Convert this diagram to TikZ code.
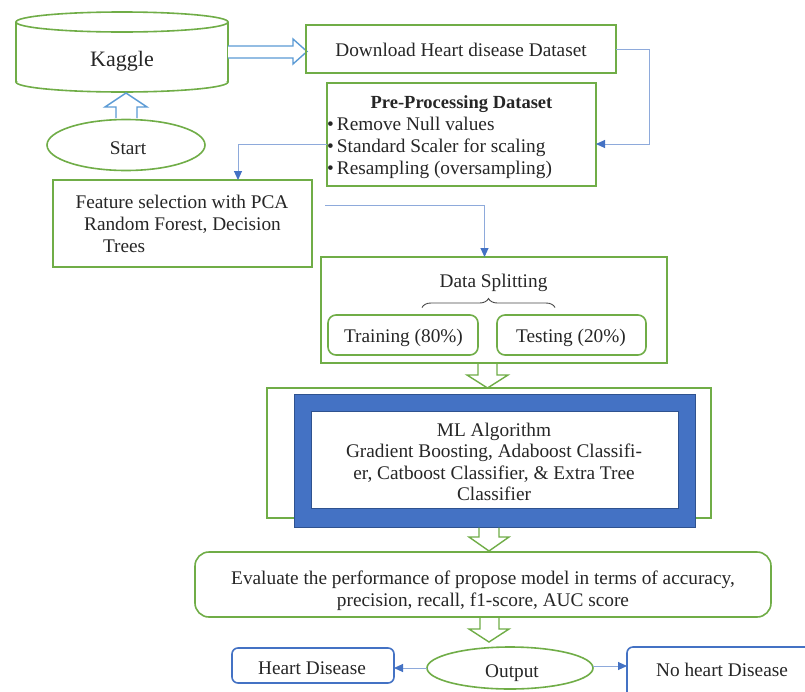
\documentclass[tikz,border=0pt]{standalone}
\usepackage{fontspec}
\setmainfont{Liberation Serif}
\usetikzlibrary{calc,arrows.meta,shapes.geometric,decorations.pathreplacing}
\definecolor{grn}{HTML}{70AD47}
\definecolor{lblue}{HTML}{8EAADB}
\definecolor{dblue}{HTML}{4472C4}
\definecolor{ablue}{HTML}{5B9BD5}
\definecolor{eblue}{HTML}{2F528F}
\definecolor{txt}{HTML}{262626}
\begin{document}
\begin{tikzpicture}[x=1pt,y=-1pt,
  every node/.style={text=txt,font=\fontsize{19.3}{22}\selectfont,inner sep=0pt,outer sep=0pt},
  gbox/.style={draw=grn,line width=1.6pt},
  rbox/.style={draw=grn,line width=1.6pt,rounded corners=8pt},
  bbox/.style={draw=dblue,line width=1.6pt,rounded corners=6pt},
  gline/.style={draw=grn,line width=1.6pt},
  conn/.style={draw=lblue,line width=1pt,-{Triangle[length=9pt,width=8pt,color=dblue]}},
  harrow/.style={draw=ablue,line width=1.4pt,fill=white,line join=miter},
  garrow/.style={draw=grn,line width=1.4pt,line join=miter},
  lbl/.style={anchor=base},
  lblw/.style={anchor=base west}]
\useasboundingbox (0,0) rectangle (805,691);
\fill[white] (0,0) rectangle (805,691);
\clip (0,0) rectangle (805,691);

% Kaggle cylinder
\draw[gline] (16,22) -- (16,82);
\draw[gline] (228,22) -- (228,82);
\draw[gline] (122,22) ellipse [x radius=106, y radius=10];
\begin{scope}
  \clip (0,81.5) rectangle (240,100);
  \draw[gline] (122,82) ellipse [x radius=106, y radius=10];
\end{scope}
\node[lbl,font=\fontsize{22}{26}\selectfont] (kaggle) at (122,66) {Kaggle};

% Start
\node[draw=grn,line width=1.6pt,ellipse,minimum width=158,minimum height=51] (start) at (126,145) {};
\node[lbl] (starttext) at (128,154) {Start};
% hollow up arrow
\draw[harrow] (116,118) -- (116,107) -- (105,107) -- (126,93) -- (147,107) -- (137,107) -- (137,118);

% hollow right arrow Kaggle -> Download
\draw[harrow] (228,46) -- (293,46) -- (293,39) -- (307,51.5) -- (293,64) -- (293,58) -- (228,58);

% Download
\node[gbox,minimum width=310,minimum height=48] (dl) at (461,49) {};
\node[lbl] (dltext) at (461,56) {Download Heart disease Dataset};

% Pre-processing
\node[gbox,minimum width=269,minimum height=103] (pre) at (461.5,134.5) {};
\node[lbl,font=\fontsize{18.5}{21}\selectfont\bfseries] (pretitle) at (461.5,108) {Pre-Processing Dataset};
\node[lblw] (pre1) at (327,130) {\textbullet\,Remove Null values};
\node[lblw] (pre2) at (327,152.5) {\textbullet\,Standard Scaler for scaling};
\node[lblw] (pre3) at (327,174.5) {\textbullet\,Resampling (oversampling)};

% Feature selection
\node[gbox,minimum width=259,minimum height=87] (feat) at (182.5,223.5) {};
\node[lbl] (feat1) at (182,208) {Feature selection with PCA};
\node[lbl] (feat2) at (182.5,230.5) {Random Forest, Decision};
\node[lblw] (feat3) at (103,252.5) {Trees};

% Data splitting
\node[gbox,minimum width=346,minimum height=106] (ds) at (494,310) {};
\node[lbl] (dstext) at (493.5,287) {Data Splitting};
\draw[decorate,decoration={brace,amplitude=9pt},draw=txt!85,line width=0.9pt] (422,307.5) -- (555,307.5);
\node[rbox,minimum width=150,minimum height=40] (train) at (403,335) {};
\node[lbl] (traintext) at (403.5,342) {Training (80\%)};
\node[rbox,minimum width=149,minimum height=40] (test) at (571.5,335) {};
\node[lbl] (testtext) at (571,342) {Testing (20\%)};

% arrow DS -> ML
\draw[garrow] (478,363) -- (478,375) -- (467,375) -- (487.5,388) -- (508,375) -- (497,375) -- (497,363);

% ML block
\node[gbox,minimum width=444,minimum height=130] (mlout) at (489,453) {};
\node[fill=dblue,draw=eblue,line width=0.8pt,minimum width=401,minimum height=133] (mlblue) at (494.5,460.5) {};
\node[fill=white,draw=eblue,line width=0.6pt,minimum width=367,minimum height=97] (mlin) at (494.5,459.5) {};
\node[lbl] (ml1) at (494,436) {ML Algorithm};
\node[lbl] (ml2) at (494,457.5) {Gradient Boosting, Adaboost Classifi-};
\node[lbl] (ml3) at (494,479) {er, Catboost Classifier, \& Extra Tree};
\node[lbl] (ml4) at (494,500.5) {Classifier};

% arrow ML -> Evaluate
\draw[garrow] (479,527.5) -- (479,537) -- (469,537) -- (489,551) -- (509,537) -- (499,537) -- (499,527.5);

% Evaluate
\node[draw=grn,line width=1.6pt,rounded corners=14pt,minimum width=576,minimum height=65] (eval) at (483,584.5) {};
\node[lbl] (ev1) at (483,584) {Evaluate the performance of propose model in terms of accuracy,};
\node[lbl] (ev2) at (483,606) {precision, recall, f1-score, AUC score};

% arrow Evaluate -> Output
\draw[garrow] (480,617) -- (480,629) -- (469,629) -- (489,642) -- (509,629) -- (499,629) -- (499,617);

% Output
\node[draw=grn,line width=1.6pt,ellipse,minimum width=166,minimum height=42] (out) at (510,668) {};
\node[lbl] (outtext) at (512,677) {Output};

% Heart disease boxes
\node[bbox,minimum width=162,minimum height=35] (heart) at (313,665.5) {};
\node[lbl] (hearttext) at (312,674) {Heart Disease};
\node[bbox,minimum width=200,minimum height=54] (noheart) at (727,674) {};
\node[lbl] (noheartttext) at (722,676) {No heart Disease};

% connectors
\draw[conn] (dl.east) -- ++(33,0) |- ([yshift=-9.5pt]pre.east);
\draw[conn] ([yshift=-9.5pt]pre.west) -| ([xshift=55.5pt]feat.north);
\coordinate (c3) at (325,205);
\draw[conn] (c3) -| ([xshift=-9.5pt]ds.north);
\draw[conn] (out.west) -- (heart.east |- out.west);
\coordinate (oe) at ([yshift=2pt]out.east);
\draw[conn] (oe) -- (noheart.west |- oe);
\end{tikzpicture}
\end{document}
